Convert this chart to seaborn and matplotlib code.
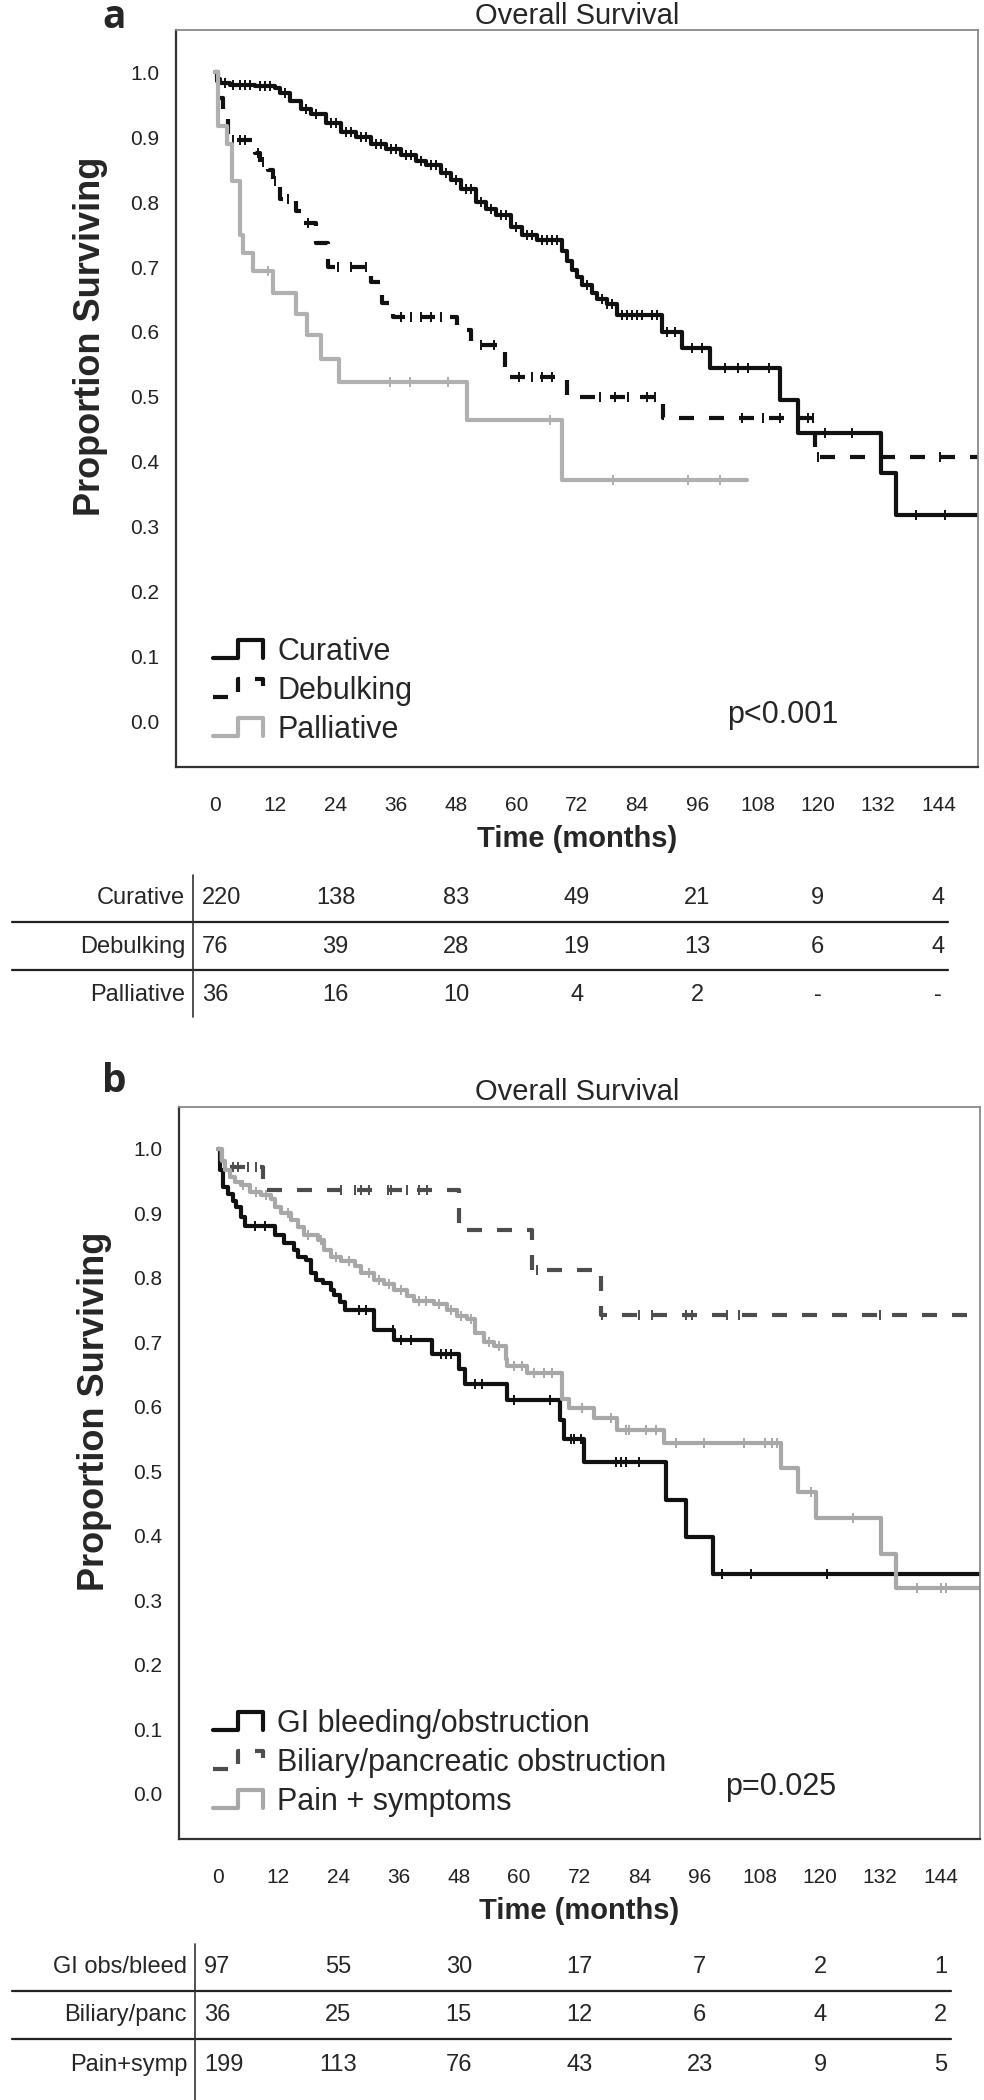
import numpy as np
import matplotlib
matplotlib.use("Agg")
import matplotlib.pyplot as plt
import seaborn as sns
from matplotlib.lines import Line2D
from matplotlib.legend_handler import HandlerBase
from matplotlib import transforms

# ---------------- Panel a: surgical intent ----------------
cur_t = [0, 0.5, 1, 3, 8, 12, 13, 15, 17, 19, 22, 25, 28, 31, 34, 37, 40, 42, 45, 47, 49,
         52, 54, 56, 59, 61, 64, 69, 70, 71, 72, 73, 75, 76, 78, 80, 89, 93, 98.5, 112.5,
         116, 132.5, 135.5]
cur_s = [1.0, 0.99, 0.983, 0.98, 0.978, 0.975, 0.968, 0.955, 0.943, 0.935, 0.922, 0.908,
         0.9, 0.89, 0.882, 0.873, 0.864, 0.857, 0.845, 0.834, 0.82, 0.80, 0.79, 0.78, 0.762,
         0.75, 0.741, 0.725, 0.71, 0.695, 0.685, 0.672, 0.66, 0.65, 0.643, 0.626, 0.60,
         0.575, 0.545, 0.495, 0.445, 0.383, 0.318]
cur_cens = [2, 3.5, 5, 6, 7, 9, 10, 11, 14, 18, 20, 23, 24, 26, 27, 29, 30, 32, 33, 35, 36,
            38, 39, 41, 43, 44, 46, 48, 50, 51, 53, 55, 57, 58, 60, 62, 63, 65, 66, 67, 68,
            74, 77, 78, 79, 81, 82, 83, 84, 85, 87, 88, 90, 91.6, 95, 97, 101.6, 104.2,
            106.2, 110.2, 121.5, 126.9, 139.6, 145.4]
cur_end = 152

deb_t = [0, 0.4, 0.8, 1.5, 2.6, 8, 9, 10.5, 11.6, 13, 16, 17, 20, 22.5, 31, 33.3, 35.5,
         48.2, 51, 57.8, 58.6, 70, 89.2, 119.5]
deb_s = [1.0, 0.987, 0.961, 0.934, 0.895, 0.875, 0.862, 0.849, 0.833, 0.805, 0.787, 0.768,
         0.737, 0.70, 0.677, 0.645, 0.623, 0.603, 0.58, 0.545, 0.53, 0.50, 0.468, 0.408]
deb_cens = [3.5, 5, 6, 8.5, 9.5, 12, 14.5, 18.5, 24.5, 27, 30, 37, 39, 41, 43, 45, 53, 55.5,
            60.5, 63, 65, 67, 76.7, 79.7, 82.3, 86, 87.6, 105, 109, 112.5, 118, 119, 120,
            144.4]
deb_end = 152

pal_t = [0, 0.6, 2.3, 3.3, 5, 5.6, 7.6, 11.6, 16, 18.3, 21, 24.6, 50.2, 69]
pal_s = [1.0, 0.917, 0.889, 0.833, 0.75, 0.722, 0.694, 0.66, 0.628, 0.596, 0.558, 0.523,
         0.465, 0.372]
pal_cens = [10.6, 34.9, 38.8, 46.4, 66.7, 79.3, 94.2, 100.6]
pal_end = 106

# ---------------- Panel b: presenting symptom ----------------
gi_t = [0, 0.3, 1, 2, 3, 3.6, 4.6, 5.3, 11.3, 13.2, 15.2, 15.9, 17.5, 18.5, 19.5, 20.9,
        22.5, 23.2, 24.2, 25.2, 31.1, 35.1, 42.7, 48, 49.3, 57.6, 68.2, 68.9, 73, 89.3,
        93.2, 98.6]
gi_s = [1.0, 0.967, 0.941, 0.93, 0.92, 0.91, 0.895, 0.88, 0.867, 0.854, 0.844, 0.833,
        0.828, 0.808, 0.797, 0.792, 0.782, 0.774, 0.762, 0.751, 0.72, 0.703, 0.682, 0.659,
        0.636, 0.61, 0.579, 0.55, 0.515, 0.456, 0.398, 0.341]
gi_cens = [7.3, 9.3, 28, 29.5, 34.8, 36.4, 38.4, 44.4, 45.4, 46.4, 51.3, 52.6, 59, 66.2,
           70.3, 71, 72.3, 79.3, 80.3, 81.3, 84, 100.4, 106.2, 121.3]
gi_end = 152

bil_t = [0, 0.5, 8.9, 48, 62.6, 76.3]
bil_s = [1.0, 0.972, 0.936, 0.874, 0.813, 0.743]
bil_cens = [3, 4, 6, 7.5, 24.5, 27.2, 28.5, 30.1, 33.8, 34.4, 37.7, 40, 41.7, 63.6, 76.5,
            84, 86.5, 93.2, 94.4, 101.4, 103.8, 132]
bil_end = 150

pain_t = [0, 0.7, 1.3, 2.3, 3.3, 4.6, 6.3, 8.6, 10.6, 11.3, 12.6, 14.6, 15.9, 17.2, 19.9,
          21.2, 22.5, 24.5, 27.2, 28.5, 31.1, 33.1, 35.1, 37.7, 39.1, 43, 45.7, 47.7, 49.7,
          51.3, 53, 55, 57.3, 57.6, 61.6, 68.5, 70, 75, 79.6, 88.9, 112.3, 115.7, 119.3,
          132.2, 135.2]
pain_s = [1.0, 0.982, 0.967, 0.956, 0.949, 0.944, 0.933, 0.928, 0.923, 0.91, 0.90, 0.89,
          0.879, 0.867, 0.859, 0.844, 0.833, 0.826, 0.818, 0.808, 0.797, 0.79, 0.782, 0.772,
          0.764, 0.76, 0.751, 0.741, 0.736, 0.715, 0.70, 0.695, 0.674, 0.664, 0.652, 0.613,
          0.598, 0.583, 0.564, 0.544, 0.505, 0.468, 0.428, 0.372, 0.319]
pain_cens = [5, 7.5, 9.5, 14, 18, 20.5, 23.5, 26, 30, 32, 34, 36.5, 40, 41.5, 44, 46.5, 48.5,
             50.5, 54, 56, 59, 60.5, 63, 65, 66.5, 72.6, 78.3, 81.3, 82, 85.3, 87.3, 91.2,
             96.8, 104.8, 109, 110.4, 111.4, 118.3, 126.6, 139.4, 144.1, 145.1]
pain_end = 152

# ---------------- numbers at risk ----------------
risk_months = [0, 24, 48, 72, 96, 120, 144]
risk_a_rows = ["Curative", "Debulking", "Palliative"]
risk_a = [["220", "138", "83", "49", "21", "9", "4"],
          ["76", "39", "28", "19", "13", "6", "4"],
          ["36", "16", "10", "4", "2", "-", "-"]]
risk_b_rows = ["GI obs/bleed", "Biliary/panc", "Pain+symp"]
risk_b = [["97", "55", "30", "17", "7", "2", "1"],
          ["36", "25", "15", "12", "6", "4", "2"],
          ["199", "113", "76", "43", "23", "9", "5"]]

x_ticks = list(range(0, 145, 12))
y_ticks = [0.0, 0.1, 0.2, 0.3, 0.4, 0.5, 0.6, 0.7, 0.8, 0.9, 1.0]

# ---------------- style ----------------
sns.set_style("white")
plt.rcParams["font.family"] = ["Liberation Sans", "DejaVu Sans"]

W, H = 984, 2100
fig = plt.figure(figsize=(W / 100, H / 100), dpi=100)

Y_LO, Y_HI = -0.07, 1.065


def fx(x):
    return x / W


def fy(y):
    return 1 - y / H


class StepHandler(HandlerBase):
    # SPSS-like little step glyph for the legend
    def create_artists(self, legend, orig_handle, xdescent, ydescent, width, height,
                       fontsize, trans):
        xs = np.array([0.0, 0.5, 0.5, 1.0, 1.0]) * width - xdescent
        ys = np.array([0.0, 0.0, 1.0, 1.0, 0.0]) * height - ydescent
        ln = Line2D(xs, ys)
        self.update_prop(ln, orig_handle, legend)
        ln.set_marker("")
        ln.set_transform(trans)
        return [ln]


def km_curve(ax, t, s, cens, end, color, dashes=None, lw=3.0):
    t = np.asarray(t, float)
    s = np.asarray(s, float)
    tt = np.append(t, end)
    ss = np.append(s, s[-1])
    sns.lineplot(x=tt, y=ss, ax=ax, color=color, lw=lw, drawstyle="steps-post",
                 estimator=None, sort=False)
    line = ax.lines[-1]
    if dashes is not None:
        line.set_dashes(dashes)
    # censor ticks sit on the curve
    c = np.asarray(cens, float)
    cs = s[np.searchsorted(t, c, side="right") - 1]
    ax.plot(c, cs, ls="none", marker="|", ms=7, mew=1.4, color=color)
    return line


def style_axes(ax):
    ax.set_xlim(-7.8, 151.9)
    ax.set_ylim(Y_LO, Y_HI)
    ax.set_xticks(x_ticks)
    ax.set_yticks(y_ticks)
    ax.set_yticklabels([f"{v:.1f}" for v in y_ticks])
    ax.tick_params(axis="both", direction="out", width=1.5, color="#333333",
                   labelsize=15, labelcolor="#222222")
    ax.tick_params(axis="x", length=12, pad=9)
    ax.tick_params(axis="y", length=9, pad=3)
    for side in ["top", "right"]:
        ax.spines[side].set_color("#8a8a8a")
        ax.spines[side].set_linewidth(1.3)
    for side in ["left", "bottom"]:
        ax.spines[side].set_color("#333333")
        ax.spines[side].set_linewidth(1.6)
    ax.grid(False)


def add_panel(top, bottom, left, right):
    return fig.add_axes([fx(left), fy(bottom), fx(right) - fx(left), fy(top) - fy(bottom)])


def label_panel(ax, letter, y_letter, y_title, y_xlabel, h_box, top_box):
    fig.text(fx(577), fy(y_title), "Overall Survival", fontsize=21, ha="center",
             va="baseline")
    fig.text(fx(114), fy(y_letter), letter, fontsize=28, fontweight="bold", ha="center",
             va="baseline", family=["Open Sans", "DejaVu Sans"])
    ax.set_xlabel("Time (months)", fontsize=21, fontweight="bold", va="center")
    ax.xaxis.set_label_coords(0.5, -(y_xlabel - (top_box + h_box)) / h_box)
    ax.set_ylabel("Proportion Surviving", fontsize=26, fontweight="bold", va="center")
    ax.yaxis.set_label_coords(-85 / 802, 0.5 + 62 / h_box)


def add_legend(ax, handles, labels, x0):
    ax.legend(handles, labels, handler_map={Line2D: StepHandler()}, loc="lower left",
              bbox_to_anchor=(x0, 0.03), frameon=False, fontsize=22, handlelength=1.65,
              handleheight=0.55, handletextpad=0.45, labelspacing=0.3, borderpad=0,
              borderaxespad=0)


def add_pvalue(ax, text, x_axes):
    tr = transforms.blended_transform_factory(ax.transAxes, ax.transData)
    ax.text(x_axes, 0.01, text, transform=tr, fontsize=22, ha="left", va="center")


def draw_table(ax, rows, values, y_rows, y_lines, y_top, y_bot, x_vline, x_right):
    tr = transforms.blended_transform_factory(ax.transData, fig.transFigure)
    for r, (name, vals) in enumerate(zip(rows, values)):
        yy = fy(y_rows[r])
        fig.text(fx(x_vline - 8), yy, name, ha="right", va="center", fontsize=17)
        fig.text(fx(x_vline + 9), yy, vals[0], ha="left", va="center", fontsize=17)
        for m, v in zip(risk_months[1:], vals[1:]):
            fig.text(m, yy, v, ha="center", va="center", fontsize=17, transform=tr)
    for yl in y_lines:
        fig.add_artist(Line2D([fx(12), fx(x_right)], [fy(yl), fy(yl)],
                              transform=fig.transFigure, color="#222222", lw=1.6))
    fig.add_artist(Line2D([fx(x_vline), fx(x_vline)], [fy(y_top), fy(y_bot)],
                          transform=fig.transFigure, color="#333333", lw=1.2))


dash_pat = (3.6, 3.6)

# ---------------- panel a ----------------
ax_a = add_panel(30, 767, 176, 978)
h1 = km_curve(ax_a, cur_t, cur_s, cur_cens, cur_end, "#111111")
h2 = km_curve(ax_a, deb_t, deb_s, deb_cens, deb_end, "#111111", dashes=dash_pat)
h3 = km_curve(ax_a, pal_t, pal_s, pal_cens, pal_end, "#b0b0b0")
style_axes(ax_a)
label_panel(ax_a, "a", 28, 24, 839, 737, 30)
add_legend(ax_a, [h1, h2, h3], ["Curative", "Debulking", "Palliative"], 0.046)
add_pvalue(ax_a, "p<0.001", (727 - 176) / 802)
draw_table(ax_a, risk_a_rows, risk_a, [898, 947, 995], [922, 970], 875, 1017, 193, 948)

# ---------------- panel b ----------------
ax_b = add_panel(1107, 1839, 179, 980)
g1 = km_curve(ax_b, gi_t, gi_s, gi_cens, gi_end, "#111111")
g2 = km_curve(ax_b, bil_t, bil_s, bil_cens, bil_end, "#4d4d4d", dashes=dash_pat)
g3 = km_curve(ax_b, pain_t, pain_s, pain_cens, pain_end, "#a8a8a8")
style_axes(ax_b)
label_panel(ax_b, "b", 1092, 1100, 1911, 732, 1107)
add_legend(ax_b, [g1, g2, g3],
           ["GI bleeding/obstruction", "Biliary/pancreatic obstruction", "Pain + symptoms"],
           0.042)
add_pvalue(ax_b, "p=0.025", (725 - 179) / 801)
draw_table(ax_b, risk_b_rows, risk_b, [1967, 2015, 2065], [1991, 2039], 1944, 2100, 195,
           951)

fig.savefig("out.png", dpi=100)
